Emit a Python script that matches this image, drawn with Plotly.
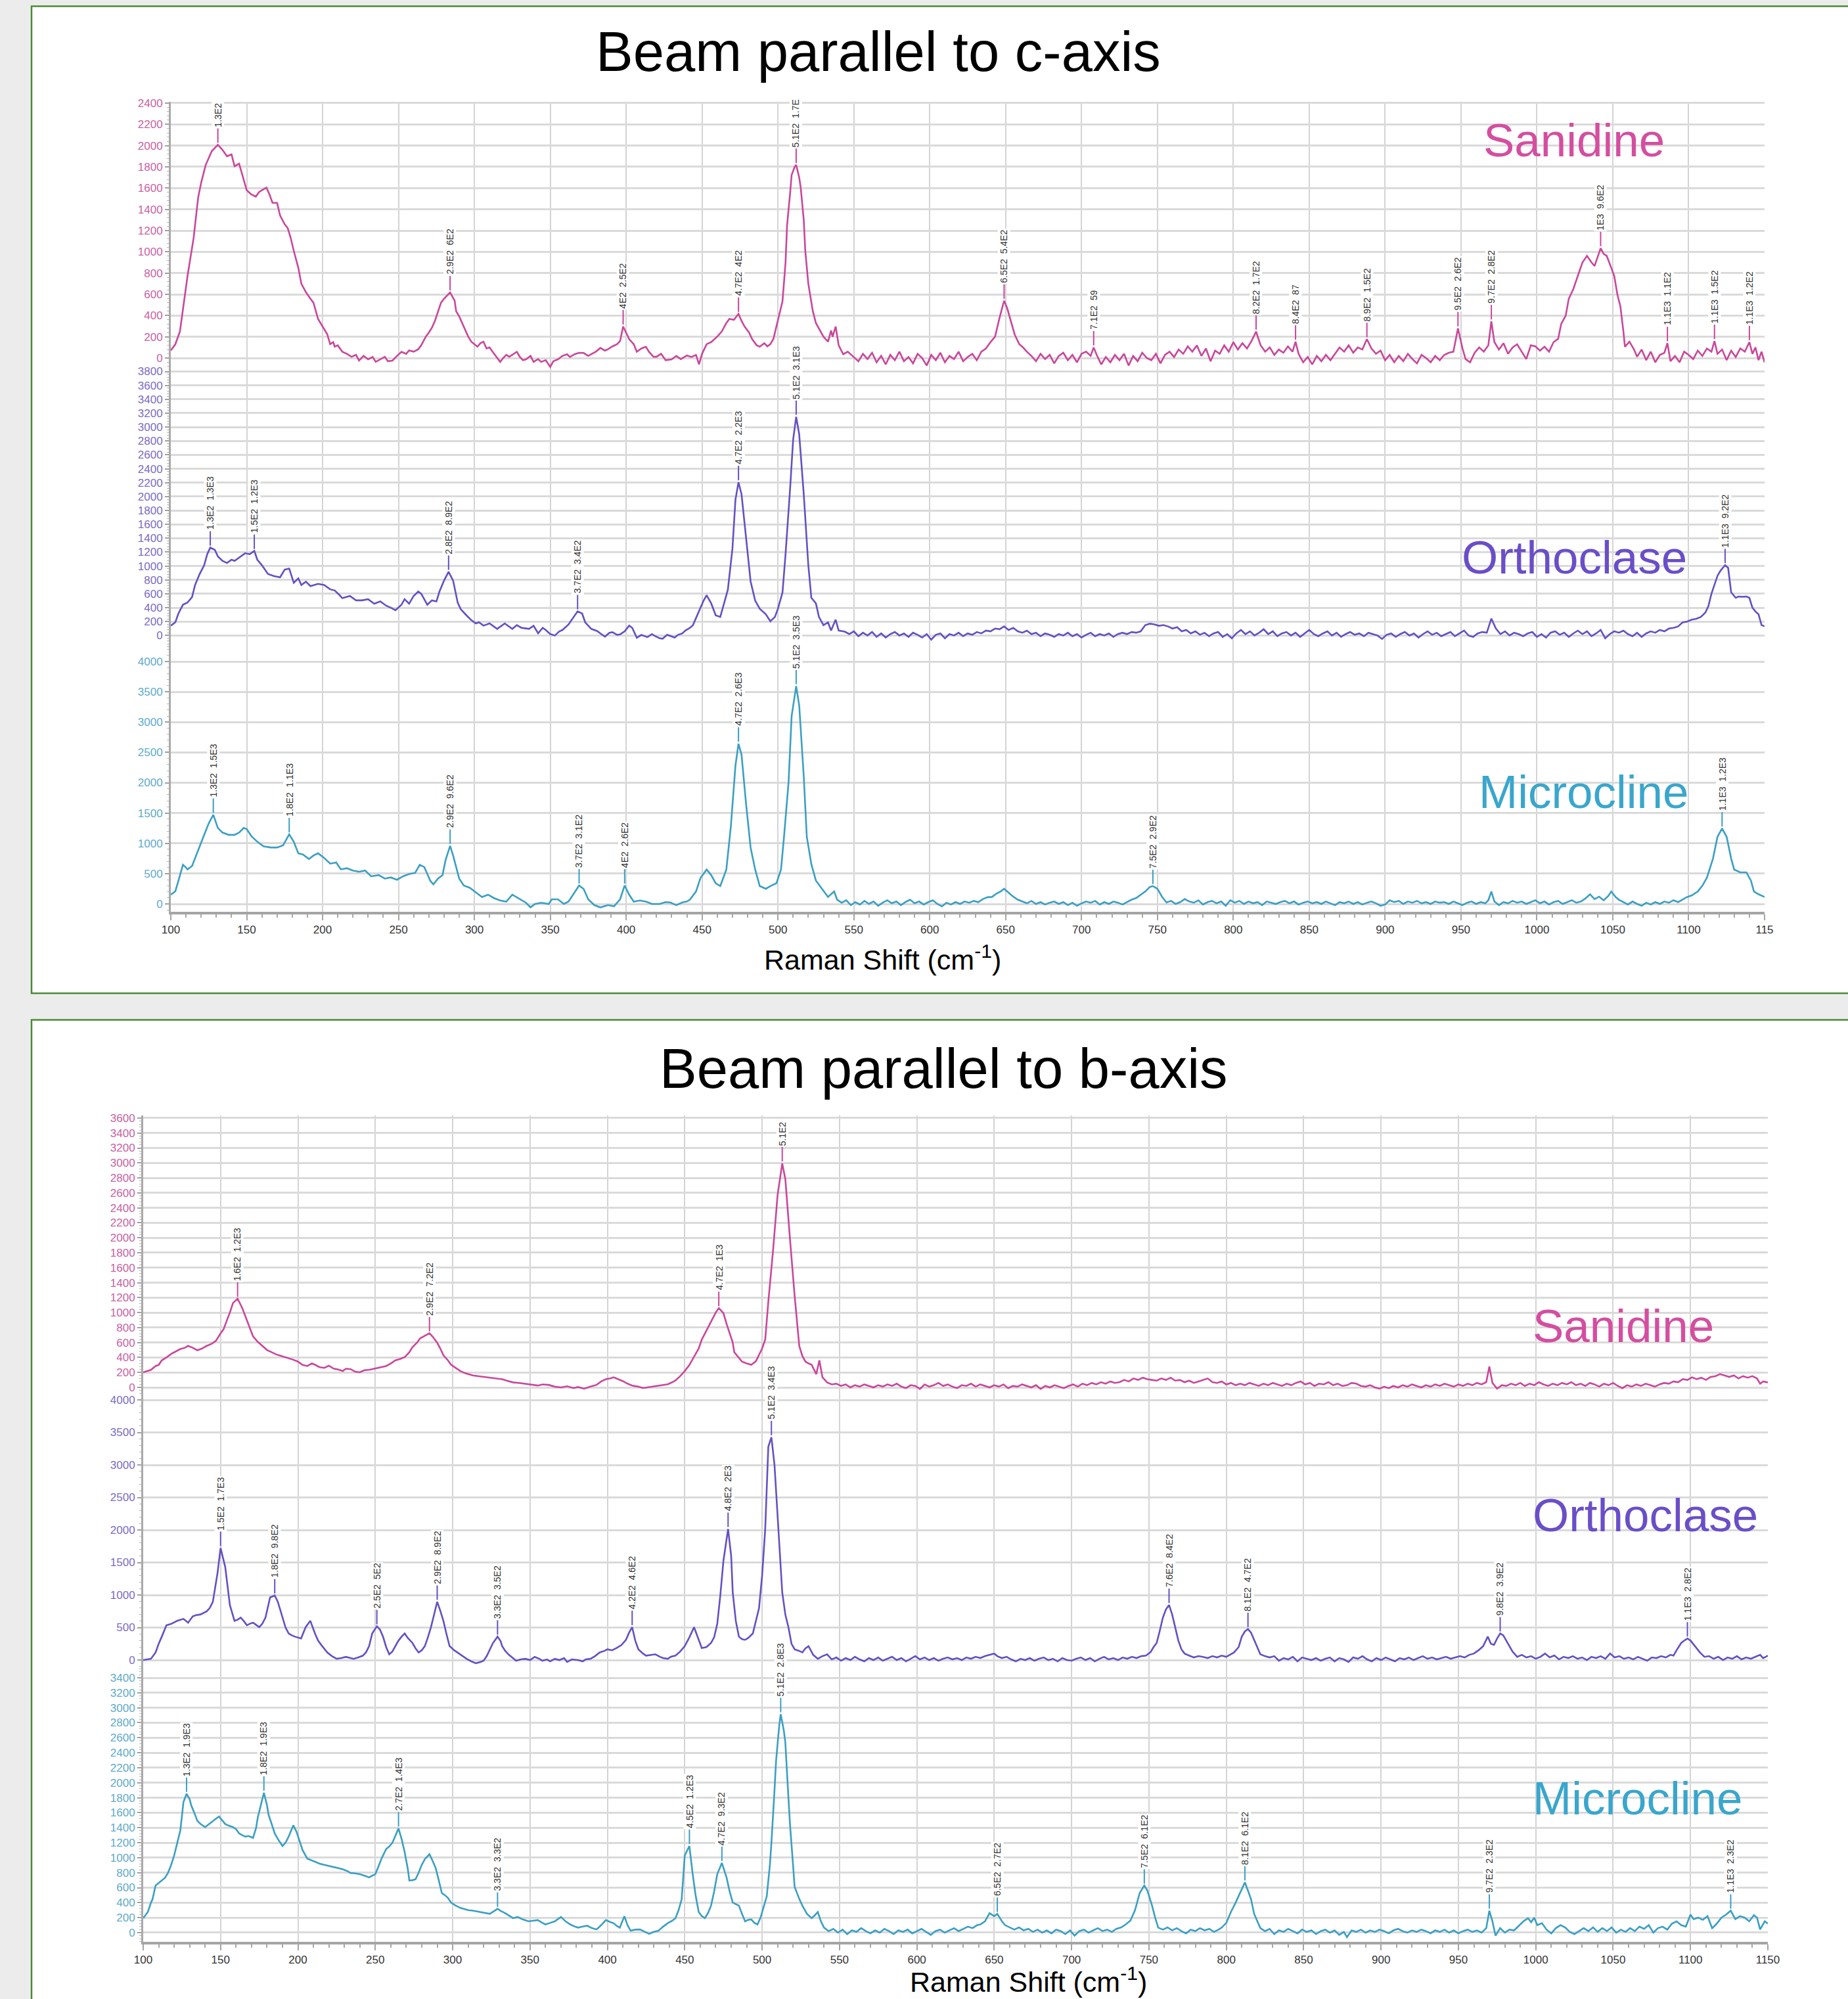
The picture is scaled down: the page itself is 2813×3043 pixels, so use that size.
import plotly.graph_objects as go

W, H = 2813, 3043

# ---------------- DATA ----------------
# Beam parallel to c-axis
SAN_C = [(100,71),(103,130),(106,250),(108,463),(111,772),(115,1128),(118,1509),(120,1651),(123,1818),(127,1948),(131,2008),(134,1960),(137,1900),(140,1917),(142,1806),(145,1830),(147,1723),(150,1580),(153,1540),(156,1520),(158,1560),(160,1580),(163,1604),(165,1540),(167,1461),(170,1461),(172,1342),(175,1260),(177,1224),(179,1130),(181,1010),(184,850),(186,700),(189,620),(192,558),(194,520),(197,368),(200,300),(203,226),(205,131),(207,150),(208,107),(210,120),(213,59),(216,40),(219,12),(222,30),(224,-24),(227,20),(230,-12),(233,10),(235,-36),(238,-10),(241,12),(243,-30),(246,-24),(249,20),(252,59),(255,40),(257,71),(260,60),(263,83),(265,120),(268,202),(270,240),(272,285),(274,350),(276,440),(278,520),(280,558),(282,590),(284,618),(287,540),(288,440),(290,392),(292,330),(294,261),(296,200),(298,154),(300,130),(302,107),(304,140),(306,154),(308,90),(310,100),(312,59),(314,20),(317,-36),(319,0),(321,30),(323,12),(326,40),(328,59),(330,10),(332,-20),(334,-12),(337,20),(339,-36),(342,-10),(344,-36),(347,-20),(350,-83),(352,-30),(355,-12),(358,20),(361,36),(363,10),(366,36),(369,50),(372,48),(375,20),(377,36),(380,60),(383,95),(386,70),(388,83),(391,110),(394,131),(396,160),(398,297),(400,240),(402,178),(405,130),(407,59),(410,90),(413,107),(415,60),(418,12),
 (420,12),(423,40),(426,-20),(430,-12),(433,20),(436,-10),(440,24),(443,10),(446,30),(448,-59),(450,40),(453,131),(456,150),(460,202),(463,250),(466,330),(468,368),(471,360),(474,416),(476,350),(478,297),(481,240),(483,178),(486,120),(488,107),(491,140),(493,110),(495,131),(497,180),(499,297),(501,420),(503,535),(505,900),(506,1247),(508,1550),(509,1723),(511,1800),(512,1818),(514,1700),(515,1604),(517,1300),(518,1010),(520,700),(523,440),(525,330),(528,249),(530,200),(533,154),(535,260),(536,200),(538,297),(540,120),(543,36),(546,60),(550,12),
 (553,-30),(556,40),(559,-10),(562,50),(565,-40),(568,20),(571,-60),(574,30),(577,-20),(580,60),(583,-30),(586,10),(589,-50),(592,40),(595,0),(598,-70),(601,30),(604,-20),(607,50),(610,-40),(613,20),(616,-10),(619,60),(622,-30),(625,10),(628,40),(631,-20),(634,60),(637,90),
 (640,150),(643,200),(646,380),(649,540),(651,470),(653,368),(656,220),(659,130),(661,107),(664,60),
 (667,20),(670,-30),(673,40),(676,-10),(679,30),(682,-50),(685,20),(688,50),(691,-20),(694,30),(697,-40),(700,40),(703,60),(706,20),(708,100),(710,30),(713,-60),(716,10),(719,-40),(722,30),(725,-20),(728,40),(731,-70),(734,20),(737,-30),(740,50),(743,0),(746,-20),(749,40),(752,-50),(755,30),(758,60),(761,10),(764,80),(767,40),(770,110),(773,60),(776,120),(779,20),(782,90),(785,-30),(788,70),(791,40),(794,120),(797,60),(800,150),(803,80),(806,140),(809,90),(812,160),(815,249),(818,120),(821,60),(824,100),(827,30),(830,80),(833,50),(836,110),(839,60),(841,154),(843,40),(846,-40),(849,10),(852,-60),(855,20),(858,-30),(861,30),(864,-20),(867,40),(870,100),(873,60),(876,120),(879,50),(882,100),(885,80),(888,178),(891,90),(894,40),(897,70),(900,-20),(903,30),(906,-40),(909,20),(912,-30),(915,40),(918,-10),(921,-50),(924,30),(927,0),(930,-40),(933,20),(936,-20),(939,30),(942,50),(945,60),(948,280),(951,90),(953,-10),(956,-40),(959,50),(962,100),(965,60),(968,120),(970,345),(972,150),(975,80),(978,140),(981,40),(984,100),(987,130),(990,60),(993,-10),(996,120),(999,110),(1002,70),(1005,107),(1008,60),(1011,150),(1014,180),(1016,321),(1019,400),(1021,558),(1024,650),(1027,772),(1030,900),(1033,962),(1036,900),(1038,867),(1040,950),(1042,1034),(1044,980),(1046,962),(1049,850),(1051,772),(1053,600),(1055,487),(1057,250),(1058,107),(1061,154),(1064,80),(1066,12),(1069,80),(1072,-20),(1075,60),(1078,-40),(1081,30),(1084,50),(1086,140),(1088,-30),(1091,20),(1094,-40),(1097,60),(1100,30),(1103,-10),(1106,70),(1109,20),(1112,90),(1115,60),(1117,160),(1119,40),(1122,80),(1125,-20),(1128,70),(1131,10),(1134,90),(1137,60),(1140,150),(1142,40),(1144,100),(1146,-20),(1148,60),(1150,-40)]

ORT_C = [(100,142),(103,190),(105,316),(108,443),(111,474),(114,553),(116,727),(119,885),(122,1012),(124,1170),(126,1265),(129,1233),(131,1138),(134,1075),(137,1043),(140,1091),(142,1075),(145,1122),(149,1185),(152,1170),(155,1217),(157,1091),(160,1012),(164,885),(168,854),(172,838),(175,948),(178,964),(181,759),(184,822),(186,727),(189,775),(192,711),(197,743),(201,727),(205,664),(208,648),(211,585),(213,537),(218,569),(222,506),(226,506),(230,522),(234,458),(238,490),(242,427),(245,400),(248,364),(252,443),(254,522),(257,458),(260,569),(263,632),(265,600),(269,443),(272,506),(275,490),(277,632),(280,790),(283,917),(286,790),(289,474),(291,379),(295,285),(298,220),(301,174),(303,190),(306,142),(310,174),(315,95),(320,174),(325,95),(328,150),(331,111),(336,95),(339,140),(342,32),(345,110),(347,79),(350,20),(353,0),(356,60),(358,79),(362,158),(365,253),(368,348),(371,316),(373,190),(377,95),(381,63),(383,30),(386,-16),(389,40),(391,47),(394,10),(396,16),(399,60),(402,142),(404,110),(407,-32),(410,8),(413,-16),(414,-24),(417,20),(419,-8),(422,-40),(424,-47),(427,10),(429,-8),(432,-30),(434,8),(437,30),(439,71),(442,110),(444,149),(448,345),(451,502),(453,580),(456,463),(459,290),(462,267),(464,424),(467,659),(470,1248),(472,1955),(474,2206),(476,2033),(479,1405),(482,777),(485,502),(488,385),(492,306),(495,204),(498,267),(500,385),(503,620),(505,1170),(508,2112),(510,2818),(512,3148),(514,2897),(517,2033),(520,1013),(522,542),(525,463),(527,267),(530,149),(533,188),(535,71),(538,228),(540,71),(544,55),
 (547,20),(550,60),(553,-10),(556,40),(559,0),(562,50),(565,-20),(568,30),(571,-30),(574,20),(577,50),(580,0),(583,30),(586,-20),(589,40),(592,10),(595,-30),(598,20),(601,-60),(604,10),(607,30),(610,-40),(613,20),(616,0),(619,40),(622,-10),(625,30),(628,10),(631,50),(634,30),(637,70),(640,60),(643,100),(646,90),(649,130),(652,80),(655,110),(658,60),(661,40),(664,70),(667,20),(670,40),(673,-10),(676,30),(679,10),(682,-20),(685,20),(688,0),(691,40),(694,-10),(697,20),(700,-30),(703,10),(706,40),(709,-10),(712,20),(715,0),(718,30),(721,-20),(724,20),(727,40),(730,20),(733,50),(736,40),(739,60),(742,150),(745,170),(748,160),(751,140),(754,150),(757,130),(760,100),(763,120),(766,60),(769,80),(772,30),(775,60),(778,10),(781,40),(784,-10),(787,30),(790,50),(793,-20),(796,20),(799,-40),(802,30),(805,80),(808,20),(811,60),(814,0),(817,40),(820,90),(823,20),(826,60),(829,-10),(832,30),(835,50),(838,0),(841,40),(844,-20),(847,30),(850,80),(853,20),(856,-10),(859,30),(862,60),(865,0),(868,40),(871,-20),(874,20),(877,50),(880,10),(883,30),(886,-10),(889,40),(892,20),(895,0),(898,-50),(901,10),(904,30),(907,-20),(910,20),(913,50),(916,0),(919,30),(922,-30),(925,20),(928,60),(931,10),(934,40),(937,-10),(940,20),(943,50),(946,-10),(949,30),(952,70),(955,0),(958,-20),(961,30),(964,50),(967,40),(970,243),(973,100),(976,20),(979,60),(982,0),(985,40),(988,20),(991,-10),(994,30),(997,50),(1000,-20),(1003,20),(1006,-30),(1009,40),(1012,60),(1015,10),(1018,40),(1021,-20),(1024,30),(1027,70),(1030,20),(1033,60),(1036,-10),(1039,30),(1042,80),(1045,-40),(1048,20),(1051,60),(1054,40),(1057,70),(1060,20),(1063,-10),(1066,40),(1069,-20),(1072,30),(1075,60),(1078,40),(1081,80),(1084,60),(1087,100),(1090,110),(1093,130),(1096,188),(1099,200),(1102,228),(1105,240),(1108,267),(1111,330),(1113,424),(1115,600),(1117,738),(1119,860),(1121,934),(1123,990),(1124,1013),(1126,973),(1128,620),(1131,542),(1133,560),(1135,557),(1138,560),(1140,542),(1142,400),(1144,345),(1146,306),(1148,149),(1150,133)]

MIC_C = [(100,152),(103,209),(105,380),(108,646),(110,600),(111,570),(114,627),(116,760),(119,950),(122,1140),(125,1330),(128,1471),(131,1254),(134,1178),(138,1140),(142,1140),(145,1178),(148,1254),(150,1235),(153,1121),(157,1026),(161,950),(166,931),(170,931),(174,969),(176,1064),(178,1148),(181,1026),(184,836),(187,817),(191,741),(194,798),(197,836),(201,760),(205,665),(209,684),(212,570),(216,589),(220,551),(224,532),(228,551),(232,456),(237,475),(241,418),(245,437),(249,399),(253,456),(257,494),(261,513),(264,646),(267,608),(271,380),(273,323),(276,418),(279,475),(281,722),(284,958),(286,798),(290,418),(293,304),(297,266),(301,190),(305,114),(309,152),(313,95),(317,57),(321,38),(325,152),(329,95),(334,19),(337,-57),(340,0),(344,19),(349,0),(351,76),(355,76),(359,0),(362,38),(366,190),(369,304),(372,247),(375,76),(379,-19),(383,-57),(388,-19),(392,-38),(396,76),(399,304),(402,152),(405,38),(409,57),(413,38),(417,0),
 (422,0),(426,30),(429,24),(433,-20),(437,24),(440,40),(442,70),(446,205),(449,431),(453,567),(456,476),(459,341),(462,295),(466,567),(469,1289),(472,2282),(474,2644),(476,2463),(479,1650),(482,927),(485,567),(488,295),(492,250),(495,295),(499,341),(502,567),(504,1109),(507,2012),(509,3096),(512,3593),(514,3276),(517,2103),(519,1109),(522,657),(525,386),(529,250),(533,115),(537,205),(539,70),
 (542,20),(545,60),(548,-20),(551,30),(554,-10),(557,50),(560,0),(563,40),(566,-30),(569,20),(572,60),(575,10),(578,40),(581,-20),(584,30),(587,70),(590,10),(593,40),(596,-10),(599,30),(602,60),(605,0),(608,-40),(611,20),(614,-10),(617,30),(620,0),(623,40),(626,20),(629,50),(632,30),(635,80),(638,110),(641,115),(644,170),(647,210),(649,250),(652,180),(655,120),(658,70),(661,40),(664,10),(667,50),(670,0),(673,30),(676,-10),(679,20),(682,40),(685,0),(688,30),(691,-20),(694,20),(697,-30),(700,10),(703,40),(706,20),(709,50),(712,-10),(715,30),(718,0),(721,40),(724,20),(727,-10),(730,30),(733,70),(736,97),(739,150),(742,205),(745,280),(747,295),(750,250),(753,120),(756,24),(759,50),(762,0),(765,30),(768,80),(771,40),(774,20),(777,60),(780,-10),(783,30),(786,50),(789,10),(792,40),(795,-30),(798,60),(801,20),(804,50),(807,0),(810,40),(813,10),(816,30),(819,-20),(822,40),(825,20),(828,0),(831,30),(834,50),(837,10),(840,40),(843,-10),(846,20),(849,40),(852,10),(855,30),(858,0),(861,40),(864,10),(867,-20),(870,30),(873,10),(876,40),(879,0),(882,30),(885,-10),(888,20),(891,40),(894,10),(897,-30),(900,-10),(903,60),(906,30),(909,50),(912,0),(915,40),(918,20),(921,50),(924,10),(927,30),(930,0),(933,40),(936,20),(939,30),(942,0),(945,40),(948,10),(951,-20),(954,20),(957,40),(960,0),(963,30),(966,10),(968,60),(970,205),(972,40),(975,-20),(978,30),(981,10),(984,50),(987,20),(990,40),(993,0),(996,30),(999,60),(1002,10),(1005,40),(1008,-10),(1011,30),(1014,50),(1017,0),(1020,30),(1023,60),(1026,20),(1029,40),(1032,90),(1035,160),(1038,80),(1041,120),(1044,60),(1047,130),(1049,205),(1052,110),(1054,70),(1057,30),(1060,-10),(1063,40),(1066,0),(1069,-30),(1072,20),(1075,-10),(1078,30),(1081,0),(1084,40),(1087,20),(1090,60),(1093,30),(1096,70),(1099,115),(1102,140),(1106,205),(1109,300),(1112,431),(1116,747),(1119,1109),(1122,1244),(1125,1109),(1128,747),(1130,567),(1134,521),(1138,521),(1141,386),(1143,205),(1146,160),(1150,115)]

# Beam parallel to b-axis
SAN_B = [(100,202),(103,220),(105,235),(108,286),(110,300),(112,362),(115,400),(118,446),(121,480),(124,513),(127,530),(129,555),(132,530),(135,496),(138,520),(141,555),(144,580),(147,622),(150,723),(152,780),(154,892),(156,1000),(158,1127),(161,1186),(164,1060),(166,950),(168,850),(171,681),(174,610),(177,555),(180,500),(183,471),(186,440),(188,429),(191,410),(194,387),(197,370),(200,345),(203,300),(206,286),(209,320),(211,303),(214,270),(217,261),(220,290),(223,252),(226,240),(229,219),(231,250),(234,244),(237,210),(240,202),(243,230),(246,235),(249,250),(251,261),(254,270),(257,286),(260,320),(263,362),(266,380),(269,404),(272,470),(274,538),(277,600),(279,656),(282,690),(285,723),(287,680),(290,597),(292,520),(294,429),(297,360),(299,303),(302,260),(305,219),(308,190),(311,168),(313,160),(316,151),(320,140),(324,135),(328,120),(332,109),(335,90),(339,67),(343,60),(347,50),(351,40),(355,25),(358,40),(362,34),(366,10),(370,0),(374,15),(378,-8),(381,5),(385,-17),(389,10),(393,34),(396,80),(399,109),(402,120),(404,135),(407,110),(410,84),(413,50),(416,25),(420,10),(423,-8),(427,5),(431,17),(435,30),(439,42),(442,70),(444,93),(447,150),(450,219),(453,300),(456,404),(459,520),(461,639),(464,760),(467,892),(470,1000),(472,1060),(475,993),(477,850),(479,723),(481,600),(482,471),(485,400),(487,345),(490,320),(493,303),(496,350),(498,429),(500,520),(502,639),(504,1144),(507,1817),(510,2574),(513,2994),(515,2784),(518,1985),(521,1228),(524,555),(526,420),(528,345),(530,320),(532,303),(535,177),(537,362),(539,135),(542,67),(545,40),
 (548,50),(551,20),(554,40),(557,0),(560,30),(563,10),(566,40),(569,20),(572,0),(575,30),(578,10),(581,40),(584,20),(587,50),(590,10),(593,-10),(596,30),(599,20),(602,-20),(605,40),(608,10),(611,30),(614,60),(617,20),(620,40),(623,10),(626,-10),(629,30),(632,20),(635,50),(638,10),(641,40),(644,20),(647,0),(650,30),(653,10),(656,40),(659,-10),(662,20),(665,10),(668,40),(671,20),(674,0),(677,30),(680,-20),(683,20),(686,0),(689,30),(692,10),(695,-10),(698,20),(701,40),(704,10),(707,50),(710,30),(713,60),(716,40),(719,70),(722,50),(725,80),(728,60),(731,70),(734,100),(737,80),(740,120),(743,100),(746,130),(749,110),(752,100),(755,90),(758,120),(761,100),(764,130),(767,90),(770,100),(773,70),(776,90),(779,60),(782,80),(785,100),(788,120),(791,70),(794,60),(797,80),(800,40),(803,60),(806,30),(809,50),(812,30),(815,60),(818,40),(821,20),(824,50),(827,30),(830,60),(833,40),(836,20),(839,50),(842,30),(845,60),(848,80),(851,40),(854,60),(857,20),(860,50),(863,40),(866,70),(869,30),(872,50),(875,20),(878,30),(881,60),(884,50),(887,20),(890,10),(893,30),(896,0),(899,-17),(902,10),(905,-10),(908,20),(911,0),(914,30),(917,10),(920,40),(923,20),(926,0),(929,30),(932,10),(935,40),(938,20),(941,50),(944,30),(947,10),(950,40),(953,20),(956,50),(959,30),(962,60),(965,40),(968,70),(970,278),(972,60),(975,-17),(978,30),(981,20),(984,50),(987,30),(990,60),(993,20),(996,50),(999,30),(1002,70),(1005,40),(1008,20),(1011,50),(1014,30),(1017,60),(1020,40),(1023,70),(1026,30),(1029,50),(1032,20),(1035,60),(1038,40),(1041,10),(1044,50),(1047,30),(1050,60),(1053,20),(1056,-10),(1059,30),(1062,10),(1065,40),(1068,20),(1071,50),(1074,30),(1077,10),(1080,40),(1083,60),(1086,50),(1089,80),(1092,70),(1095,110),(1098,100),(1101,135),(1104,110),(1107,130),(1110,100),(1113,140),(1116,150),(1119,177),(1122,160),(1125,140),(1128,160),(1131,120),(1134,150),(1137,130),(1140,151),(1143,120),(1145,50),(1147,80),(1150,67)]

ORT_B = [(100,0),(102,10),(105,19),(108,117),(110,250),(112,360),(115,535),(118,555),(120,580),(122,603),(126,633),(129,574),(132,672),(134,690),(137,701),(141,749),(143,800),(145,895),(148,1333),(150,1723),(153,1431),(156,847),(159,603),(161,620),(163,652),(165,600),(167,535),(169,560),(171,574),(173,540),(175,506),(177,560),(179,652),(182,963),(185,993),(187,895),(190,652),(192,500),(194,409),(196,380),(198,360),(202,331),(205,506),(208,603),(211,409),(213,300),(215,234),(217,170),(219,117),(222,60),(225,19),(228,30),(231,49),(234,30),(236,19),(239,40),(242,68),(244,120),(246,214),(248,409),(251,520),(253,470),(255,360),(257,200),(259,88),(261,130),(263,214),(265,300),(267,360),(269,409),(271,340),(274,263),(276,180),(278,117),(280,150),(282,214),(284,350),(286,506),(288,700),(290,895),(292,760),(294,603),(296,400),(298,214),(301,150),(303,117),(306,60),(309,19),(312,-20),(315,-49),(318,-30),(320,-10),(322,60),(324,165),(326,260),(329,360),(331,290),(332,214),(334,140),(336,88),(339,30),(341,-10),(344,10),(347,19),(350,0),(353,49),(356,20),(358,-10),(361,10),(363,-20),(366,19),(369,0),(372,30),(374,-29),(377,10),(381,0),(384,-20),(386,10),(389,19),(392,60),(395,117),(398,140),(400,165),(403,150),(406,185),(409,230),(412,311),(414,420),(416,506),(418,300),(420,165),(423,100),(425,68),(428,80),(431,88),(434,50),(436,30),(439,19),(441,50),(444,68),(447,130),(450,214),(453,350),(456,506),(458,380),(461,185),(464,200),(467,263),(469,350),(471,555),(473,1000),(475,1528),(478,2015),(480,1600),(481,1041),(483,600),(485,360),(487,320),(489,311),(491,340),(494,409),(496,600),(498,798),(500,1300),(502,2015),(504,3280),(506,3426),(508,3000),(509,2598),(511,1800),(513,1041),(515,700),(517,506),(519,250),(521,165),(524,140),(526,117),(528,180),(530,214),(533,80),(536,19),(539,60),(542,88),
 (545,10),(548,40),(551,-10),(554,30),(557,0),(560,50),(563,10),(566,-20),(569,30),(572,0),(575,40),(578,-10),(581,20),(584,50),(587,0),(590,30),(593,-20),(596,20),(599,60),(602,10),(605,40),(608,0),(611,30),(614,-10),(617,20),(620,40),(623,10),(626,30),(629,0),(632,40),(635,20),(638,50),(641,30),(644,60),(647,80),(650,100),(652,60),(655,30),(658,50),(661,10),(664,-20),(667,20),(670,0),(673,30),(676,-10),(679,20),(682,40),(685,0),(688,20),(691,-20),(694,30),(697,0),(700,-10),(703,20),(706,40),(709,0),(712,30),(715,-20),(718,20),(721,50),(724,10),(727,30),(730,0),(733,40),(736,20),(739,50),(742,30),(745,60),(748,68),(751,120),(753,200),(755,263),(757,450),(759,652),(761,780),(763,847),(765,700),(767,506),(769,300),(771,165),(773,100),(776,68),(779,40),(782,60),(785,49),(788,30),(791,60),(794,40),(797,68),(800,50),(803,90),(805,117),(808,200),(810,360),(812,440),(814,477),(816,420),(818,311),(820,200),(822,88),(825,60),(828,40),(831,60),(834,-10),(837,30),(840,10),(843,50),(846,-20),(849,40),(852,20),(855,0),(858,30),(861,-10),(864,20),(867,40),(870,-20),(873,30),(876,10),(879,-30),(882,40),(885,20),(888,60),(891,10),(894,-20),(897,30),(900,0),(903,40),(906,10),(909,-20),(912,30),(915,10),(918,40),(921,0),(924,30),(927,60),(930,20),(933,40),(936,10),(939,30),(942,50),(945,20),(948,40),(951,60),(954,40),(957,80),(960,100),(963,150),(966,214),(969,360),(971,250),(973,234),(975,330),(977,409),(979,380),(981,300),(983,214),(985,130),(988,49),(991,80),(994,40),(997,60),(1000,20),(1003,50),(1006,100),(1009,40),(1012,70),(1015,10),(1018,50),(1021,30),(1024,60),(1027,20),(1030,40),(1033,0),(1036,50),(1039,30),(1042,60),(1045,20),(1048,100),(1051,40),(1054,60),(1057,20),(1060,40),(1063,10),(1066,50),(1069,20),(1072,-10),(1075,40),(1078,30),(1081,60),(1084,40),(1087,80),(1089,68),(1091,150),(1094,263),(1096,300),(1098,331),(1100,300),(1103,214),(1106,120),(1109,49),(1112,60),(1115,20),(1118,50),(1121,0),(1124,40),(1127,20),(1130,60),(1133,10),(1136,40),(1139,20),(1142,50),(1145,80),(1147,30),(1150,68)]

MIC_B = [(100,193),(102,250),(103,276),(105,400),(106,444),(108,628),(110,660),(112,695),(114,730),(116,796),(118,900),(120,1030),(122,1200),(124,1365),(126,1742),(128,1851),(130,1780),(131,1700),(133,1600),(135,1491),(137,1450),(140,1407),(142,1440),(145,1491),(147,1520),(149,1549),(151,1500),(153,1449),(155,1430),(158,1407),(160,1380),(162,1323),(164,1300),(166,1281),(168,1290),(171,1264),(173,1400),(174,1532),(176,1700),(178,1867),(180,1700),(181,1574),(183,1450),(185,1323),(187,1250),(190,1156),(192,1200),(194,1281),(196,1380),(197,1432),(199,1350),(201,1214),(203,1100),(206,988),(209,960),(211,946),(214,920),(217,904),(220,890),(223,879),(226,860),(229,846),(232,820),(234,796),(237,790),(240,779),(243,760),(246,737),(248,760),(250,779),(252,880),(254,988),(257,1114),(259,1150),(261,1197),(263,1300),(265,1390),(267,1250),(269,1072),(271,850),(272,695),(274,700),(276,712),(278,800),(280,904),(282,980),(285,1047),(287,960),(289,863),(291,700),(293,528),(295,500),(297,461),(299,400),(302,360),(305,330),(307,318),(310,300),(313,293),(316,280),(318,276),(321,260),(324,251),(327,290),(329,318),(331,290),(334,260),(337,220),(339,193),(342,209),(345,180),(349,151),(352,160),(355,167),(358,130),(360,109),(363,130),(366,151),(368,180),(370,209),(373,150),(376,109),(379,80),(381,67),(384,80),(387,92),(390,60),(393,42),(396,100),(399,167),(402,140),(404,126),(406,90),(408,67),(411,218),(413,100),(415,25),(418,40),(421,42),(424,10),(427,-17),(430,10),(433,25),(436,80),(439,126),(442,160),(444,193),(446,300),(448,444),(450,1030),(453,1156),(455,800),(457,500),(459,276),(461,220),(463,193),(465,260),(467,360),(469,550),(471,779),(474,930),(476,800),(477,737),(479,550),(481,402),(483,380),(485,360),(487,250),(489,151),(491,170),(493,176),(495,130),(497,109),(499,200),(500,276),(503,486),(505,900),(506,1197),(508,1900),(509,2286),(511,2750),(512,2914),(514,2700),(515,2537),(517,1800),(518,1449),(520,900),(521,611),(524,450),(526,360),(529,250),(532,193),(534,230),(536,276),(538,150),(540,67),
 (543,20),(546,50),(549,0),(552,40),(555,-20),(558,30),(561,10),(564,60),(567,20),(570,-10),(573,30),(576,0),(579,50),(582,20),(585,-20),(588,30),(591,10),(594,40),(597,-10),(600,20),(603,50),(606,10),(609,-30),(612,20),(615,40),(618,0),(621,30),(624,60),(627,20),(630,50),(633,80),(636,60),(639,100),(641,109),(644,150),(647,260),(650,220),(652,250),(655,150),(657,100),(660,67),(663,40),(666,70),(669,30),(672,50),(675,10),(678,40),(681,0),(684,30),(687,-10),(690,40),(693,20),(696,-20),(699,30),(702,-40),(705,20),(708,40),(711,0),(714,30),(717,60),(720,20),(723,40),(726,10),(729,50),(732,70),(735,109),(738,160),(741,300),(744,528),(747,628),(749,560),(752,360),(754,200),(756,67),(759,40),(762,70),(765,30),(768,60),(771,20),(774,-10),(777,40),(780,20),(783,60),(786,30),(789,50),(792,10),(795,40),(797,67),(800,130),(803,276),(806,400),(809,528),(812,670),(814,560),(816,444),(818,250),(820,151),(822,60),(825,20),(828,50),(831,-20),(834,30),(837,10),(840,50),(843,20),(846,-10),(849,40),(852,10),(855,30),(858,-20),(861,20),(864,40),(867,0),(870,30),(873,-30),(876,10),(878,-60),(881,30),(884,10),(887,40),(890,0),(893,30),(896,10),(899,40),(902,20),(905,-10),(908,30),(911,50),(914,20),(917,0),(920,30),(923,10),(926,40),(929,20),(932,-10),(935,30),(938,10),(941,40),(944,0),(947,30),(950,-10),(953,20),(956,40),(959,10),(962,30),(965,0),(968,60),(970,293),(972,150),(974,-40),(977,60),(980,0),(983,40),(986,30),(989,90),(992,150),(995,193),(997,140),(999,200),(1001,100),(1004,126),(1007,40),(1010,-10),(1013,60),(1016,100),(1019,70),(1022,10),(1025,-20),(1028,20),(1031,60),(1034,20),(1037,70),(1040,10),(1043,60),(1046,20),(1049,70),(1052,0),(1055,40),(1058,10),(1061,60),(1064,20),(1067,80),(1070,50),(1073,100),(1076,0),(1079,60),(1082,80),(1085,40),(1088,120),(1091,151),(1094,100),(1097,80),(1100,240),(1102,180),(1105,200),(1108,170),(1111,220),(1114,60),(1117,120),(1120,200),(1123,240),(1126,293),(1129,180),(1132,220),(1135,200),(1138,151),(1141,234),(1143,200),(1145,42),(1148,151),(1150,120)]

# Peak labels (position, text)
PK_SAN_C = [(131,"1.3E2"),(284,"2.9E2  6E2"),(398,"4E2  2.5E2"),(474,"4.7E2  4E2"),(512,"5.1E2  1.7E"),(649,"6.5E2  5.4E2"),(708,"7.1E2  59"),(815,"8.2E2  1.7E2"),(841,"8.4E2  87"),(888,"8.9E2  1.5E2"),(948,"9.5E2  2.6E2"),(970,"9.7E2  2.8E2"),(1042,"1E3  9.6E2"),(1086,"1.1E3  1.1E2"),(1117,"1.1E3  1.5E2"),(1140,"1.1E3  1.2E2")]
PK_ORT_C = [(126,"1.3E2  1.3E3"),(155,"1.5E2  1.2E3"),(283,"2.8E2  8.9E2"),(368,"3.7E2  3.4E2"),(474,"4.7E2  2.2E3"),(512,"5.1E2  3.1E3"),(1124,"1.1E3  9.2E2")]
PK_MIC_C = [(128,"1.3E2  1.5E3"),(178,"1.8E2  1.1E3"),(284,"2.9E2  9.6E2"),(369,"3.7E2  3.1E2"),(399,"4E2  2.6E2"),(474,"4.7E2  2.6E3"),(512,"5.1E2  3.5E3"),(747,"7.5E2  2.9E2"),(1122,"1.1E3  1.2E3")]
PK_SAN_B = [(161,"1.6E2  1.2E3"),(285,"2.9E2  7.2E2"),(472,"4.7E2  1E3"),(513,"5.1E2")]
PK_ORT_B = [(150,"1.5E2  1.7E3"),(185,"1.8E2  9.8E2"),(251,"2.5E2  5E2"),(290,"2.9E2  8.9E2"),(329,"3.3E2  3.5E2"),(416,"4.2E2  4.6E2"),(478,"4.8E2  2E3"),(506,"5.1E2  3.4E3"),(763,"7.6E2  8.4E2"),(814,"8.1E2  4.7E2"),(977,"9.8E2  3.9E2"),(1098,"1.1E3  2.8E2")]
PK_MIC_B = [(128,"1.3E2  1.9E3"),(178,"1.8E2  1.9E3"),(265,"2.7E2  1.4E3"),(329,"3.3E2  3.3E2"),(453,"4.5E2  1.2E3"),(474,"4.7E2  9.3E2"),(512,"5.1E2  2.8E3"),(652,"6.5E2  2.7E2"),(747,"7.5E2  6.1E2"),(812,"8.1E2  6.1E2"),(970,"9.7E2  2.3E2"),(1126,"1.1E3  2.3E2")]

X_TICKS = [100,150,200,250,300,350,400,450,500,550,600,650,700,750,800,850,900,950,1000,1050,1100,1150]
X_TEXT_TOP = ["100","150","200","250","300","350","400","450","500","550","600","650","700","750","800","850","900","950","1000","1050","1100","115"]
X_TEXT_BOT = [str(v) for v in X_TICKS]

NAMES = ["Sanidine", "Orthoclase", "Microcline"]
TITLES = ["Beam parallel to c-axis", "Beam parallel to b-axis"]

# ---------------- STYLE ----------------
LINE_COL = ["#c9479a", "#6650c2", "#3b9fc2"]
LABEL_COL = ["#d44ea0", "#6a4ec8", "#3aa6cc"]
TICK_COL = ["#c862a2", "#7a6cc4", "#5eaacb"]
FONT = "Liberation Sans, Arial, sans-serif"
LBL_SIZE = 14
CHAR_W = {'.': 0.278, ' ': 0.278, 'E': 0.667}


def text_len(t):
    return sum(CHAR_W.get(c, 0.556) for c in t) * LBL_SIZE


def py(p):
    return 1 - p / H


fig = go.Figure()

series = [(SAN_C, PK_SAN_C, 'x', 'y', 0), (ORT_C, PK_ORT_C, 'x', 'y2', 1), (MIC_C, PK_MIC_C, 'x', 'y3', 2),
          (SAN_B, PK_SAN_B, 'x2', 'y4', 0), (ORT_B, PK_ORT_B, 'x2', 'y5', 1), (MIC_B, PK_MIC_B, 'x2', 'y6', 2)]

annotations = []
shapes = [
    dict(type='rect', xref='paper', yref='paper', x0=48 / W, x1=2840 / W, y0=py(1512), y1=py(9.6),
         fillcolor='white', line=dict(color='#4a8a36', width=2.5), layer='below'),
    dict(type='rect', xref='paper', yref='paper', x0=48 / W, x1=2840 / W, y0=py(3080), y1=py(1552.5),
         fillcolor='white', line=dict(color='#4a8a36', width=2.5), layer='below'),
]

GAP, LEAD = 3, 22
for data, peaks, xa, ya, k in series:
    xs = [p[0] for p in data]
    ys = [p[1] for p in data]
    fig.add_trace(go.Scatter(x=xs, y=ys, xaxis=xa, yaxis=ya, mode='lines',
                             line=dict(color=LINE_COL[k], width=2.6), showlegend=False,
                             name=NAMES[k]))
    for px_, txt in peaks:
        yv = max(v for (u, v) in data if abs(u - px_) <= 2.5)
        shapes.append(dict(type='line', xref=xa, yref=ya, x0=px_, x1=px_, ysizemode='pixel',
                           yanchor=yv, y0=GAP, y1=GAP + LEAD,
                           line=dict(color=LINE_COL[k], width=2)))
        L = text_len(txt)
        annotations.append(dict(x=px_, y=yv, xref=xa, yref=ya, text=txt, textangle=-90,
                                showarrow=False, xanchor='center', yanchor='middle',
                                yshift=GAP + LEAD + 2 + L / 2,
                                font=dict(family=FONT, size=LBL_SIZE, color='#333333'),
                                bgcolor='white', borderpad=1))


def yax(dom, rng, dtick, k, anchor):
    return dict(domain=[py(dom[1]), py(dom[0])], range=rng, dtick=dtick, tick0=0, anchor=anchor,
                automargin=False,
                showline=True, linecolor='#a9a9a9', linewidth=3, ticks='outside', ticklen=6,
                tickwidth=2, tickcolor='#a0a0a0',
                tickfont=dict(family=FONT, size=17, color=TICK_COL[k]),
                showgrid=True, gridcolor='#dadada', gridwidth=2.5, zeroline=False,
                minor=dict(dtick=dtick / 5, tick0=0, ticks='outside', ticklen=3, tickwidth=1,
                           tickcolor='#b4b4b4', showgrid=False), fixedrange=True)


def xax(dom, anchor, text):
    return dict(domain=[dom[0] / W, dom[1] / W], range=[100, 1150], anchor=anchor,
                automargin=False,
                tickmode='array', tickvals=X_TICKS, ticktext=text,
                showline=True, linecolor='#a4a4a4', linewidth=4, ticks='outside', ticklen=9,
                tickwidth=2, tickcolor='#a4a4a4',
                tickfont=dict(family=FONT, size=17, color='#333333'),
                showgrid=True, gridcolor='#d4d4d4', gridwidth=2, zeroline=False,
                minor=dict(dtick=10, tick0=100, ticks='outside', ticklen=5, tickwidth=1.5,
                           tickcolor='#a8a8a8', showgrid=False), fixedrange=True)


layout_axes = dict(
    xaxis=xax((260, 2686), 'y3', X_TEXT_TOP),
    xaxis2=xax((218, 2691), 'y6', X_TEXT_BOT),
    yaxis=yax((155, 563), [-111, 2412], 200, 0, 'x'),
    yaxis2=yax((563, 988), [-195, 3824], 200, 1, 'x'),
    yaxis3=yax((988, 1388), [-130, 4206], 500, 2, 'x'),
    yaxis4=yax((1698, 2121), [-79, 3635], 200, 0, 'x2'),
    yaxis5=yax((2121, 2540), [-131, 4101], 500, 1, 'x2'),
    yaxis6=yax((2540, 2956), [-123, 3523], 200, 2, 'x2'),
)


def paper_text(x, y, text, size, color, xanchor='center'):
    return dict(x=x / W, y=py(y), xref='paper', yref='paper', text=text, showarrow=False,
                xanchor=xanchor, yanchor='middle', font=dict(family=FONT, size=size, color=color))


annotations += [
    paper_text(1337, 78, TITLES[0], 85, 'black'),
    paper_text(1436, 1627, TITLES[1], 85, 'black'),
    paper_text(1343, 1458, "Raman Shift (cm<sup>-1</sup>)", 43, 'black'),
    paper_text(1565, 3014, "Raman Shift (cm<sup>-1</sup>)", 43, 'black'),
    paper_text(2256, 213, NAMES[0], 71, LABEL_COL[0], 'left'),
    paper_text(2223, 848, NAMES[1], 71, LABEL_COL[1], 'left'),
    paper_text(2249, 1205, NAMES[2], 71, LABEL_COL[2], 'left'),
    paper_text(2331, 2018, NAMES[0], 71, LABEL_COL[0], 'left'),
    paper_text(2331, 2306, NAMES[1], 71, LABEL_COL[1], 'left'),
    paper_text(2331, 2737, NAMES[2], 71, LABEL_COL[2], 'left'),
]

fig.update_layout(
    width=W, height=H, autosize=False,
    margin=dict(l=0, r=0, t=0, b=0, pad=0, autoexpand=False),
    paper_bgcolor='#ececec', plot_bgcolor='white',
    showlegend=False, shapes=shapes, annotations=annotations,
    font=dict(family=FONT),
    **layout_axes,
)

fig.write_html("out.html", config={'displayModeBar': False},
               post_script="document.body.style.margin='0px';document.body.style.overflow='hidden';")
